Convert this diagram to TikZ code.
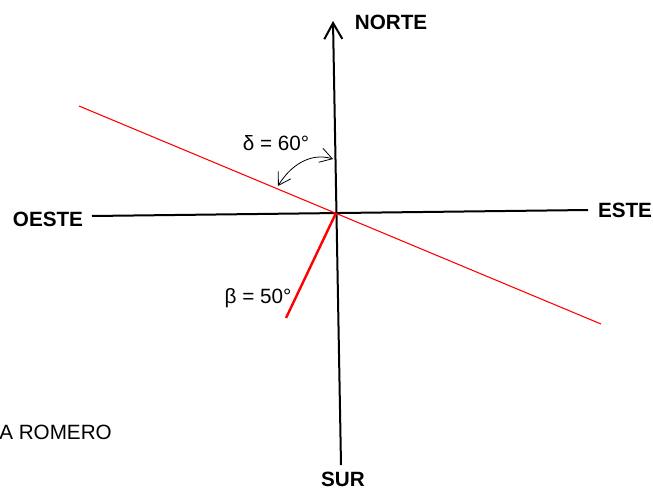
\documentclass[tikz,border=0pt]{standalone}
\usepackage{fontspec}
\setmainfont{Liberation Sans}
\usetikzlibrary{arrows.meta}
\begin{document}
\begin{tikzpicture}[x=0.75pt,y=-0.75pt,
  axis/.style={line width=1.5pt,black},
  lbl/.style={font=\fontsize{15.5}{18}\selectfont\bfseries,inner sep=0pt},
  ang/.style={font=\fontsize{15.5}{18}\selectfont,inner sep=0pt},
  redthin/.style={red,line width=0.8pt},
  redthick/.style={red,line width=1.8pt},
  arcline/.style={line width=0.6pt,{Straight Barb[length=9pt,width=11pt]}-{Straight Barb[length=9pt,width=11pt]}}]
\useasboundingbox (0,0) rectangle (653,489);
% coordinates
\coordinate (O) at (336,213);
\coordinate (Ntop) at (333,21);
\coordinate (Sbot) at (341,465);
\coordinate (Wend) at (92,216);
\coordinate (Eend) at (588,210);
\coordinate (R1) at (79,106);
\coordinate (R2) at (601,324);
\coordinate (Bend) at (286,318);
\coordinate (A1) at (333,159);
\coordinate (A2) at (278,186);
% labels
\node[lbl] (norte) at (391,22) {NORTE};
\node[lbl] (este) at (625,210) {ESTE};
\node[lbl] (oeste) at (48,219) {OESTE};
\node[lbl] (sur) at (343,479) {SUR};
\node[ang] (delta) at (276,143) {δ = 60°};
\node[ang] (beta) at (258,298) {β = 50°};
\node[ang,anchor=west] (romero) at (-1,432) {A ROMERO};
% axes
\draw[axis,-{Straight Barb[length=12pt,width=13.5pt]}] (Sbot) -- (Ntop);
\draw[axis] (Wend) -- (Eend);
% red lines
\draw[redthin] (R1) -- (R2);
\draw[redthick] (O) -- (Bend);
% angle arc
\draw[arcline] (A2) .. controls (290,166) and (310,152) .. (A1);
\end{tikzpicture}
\end{document}
